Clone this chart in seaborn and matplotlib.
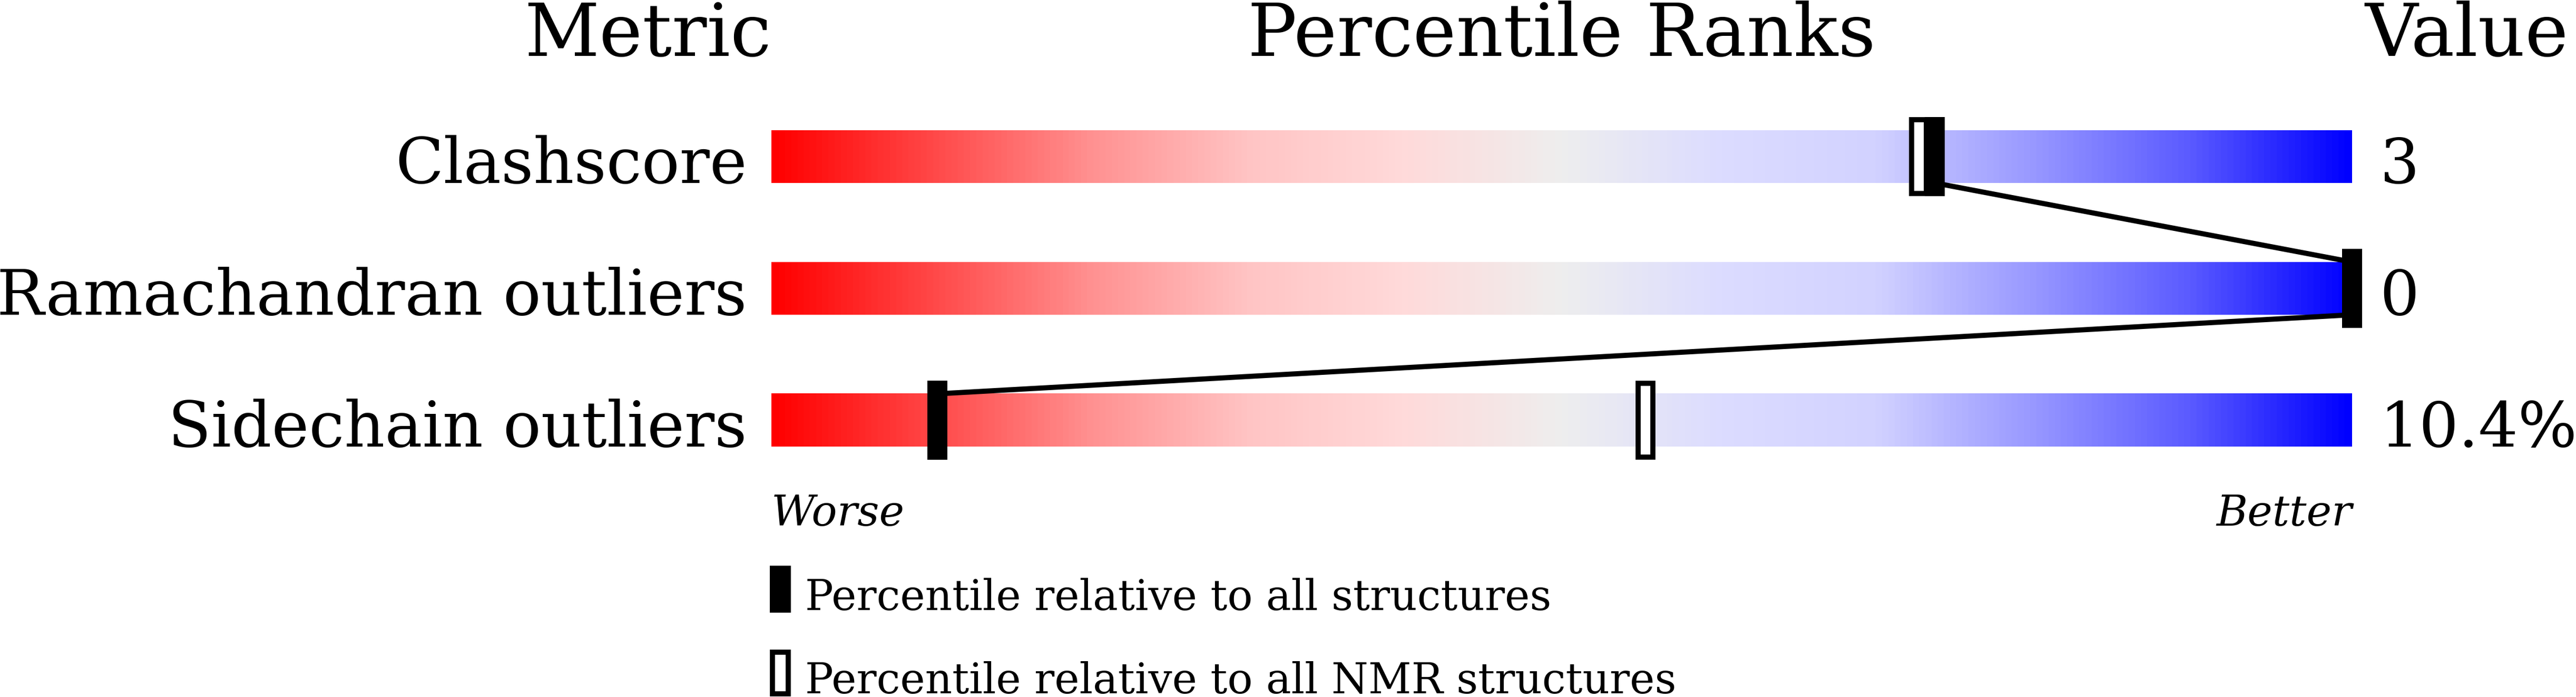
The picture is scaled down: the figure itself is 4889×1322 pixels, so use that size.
import numpy as np
import matplotlib.pyplot as plt
import seaborn as sns
from matplotlib.colors import LinearSegmentedColormap

sns.set_theme(style='white')
plt.rcParams['font.family'] = ['DejaVu Serif']
plt.rcParams['text.color'] = 'black'

# data
metrics = ['Clashscore', 'Ramachandran outliers', 'Sidechain outliers']
values = ['3', '0', '10.4%']
pct_all = [73.6, 100, 10.5]
pct_nmr = [72.6, 100, 55.3]
legend_labels = ['Percentile relative to all structures',
                 'Percentile relative to all NMR structures']

# red -> grey -> blue slider colours
grad_pos = [0, 0.1, 0.2, 0.3, 0.4, 0.5, 0.6, 0.7, 0.75, 0.8, 0.9, 1.0]
grad_col = ['#ff0000', '#ff4848', '#ff9090', '#ffc4c4', '#ffdada', '#eeeeee',
            '#dcdcff', '#d2d2ff', '#b4b4ff', '#9898ff', '#5a5aff', '#0000ff']
cmap = LinearSegmentedColormap.from_list('slider', list(zip(grad_pos, grad_col)))

fig = plt.figure(figsize=(48.89, 13.22), dpi=100)
ax = fig.add_axes([1464 / 4889, 0, 3000 / 4889, 1])
ax.set_xlim(0, 100)
ax.set_ylim(4.1, -1.188)
ax.axis('off')

bar_h = 0.4
mark_h = 0.6
mark_w = 1.27
edge = 7
grad = np.linspace(0, 1, 512).reshape(1, -1)

for i, name in enumerate(metrics):
    ax.imshow(grad, cmap=cmap, aspect='auto', interpolation='bilinear',
              extent=[0, 100, i + bar_h / 2, i - bar_h / 2], zorder=1)
    ax.text(-1.55, i + 0.2, name, ha='right', va='baseline', fontsize=86)
    ax.text(101.75, i + 0.2, values[i], ha='left', va='baseline', fontsize=85)

# connecting line between the "all structures" markers
lx, ly = [], []
for i in range(len(metrics) - 1):
    lx += [pct_all[i], pct_all[i + 1]]
    ly += [i + bar_h / 2, i + 1 - bar_h / 2]
ax.plot(lx, ly, color='black', lw=7, zorder=2, solid_capstyle='butt', clip_on=False)

rows = np.arange(len(metrics))
ax.bar(pct_nmr, mark_h - 0.04, width=mark_w - 0.33, bottom=rows - (mark_h - 0.04) / 2,
       facecolor='white', edgecolor='black', linewidth=edge, zorder=3, clip_on=False)
ax.bar(pct_all, mark_h, width=mark_w, bottom=rows - mark_h / 2,
       color='black', linewidth=0, zorder=4, clip_on=False)

# headers
ax.text(0, -0.764, 'Metric', ha='right', va='baseline', fontsize=100)
ax.text(50, -0.764, 'Percentile Ranks', ha='center', va='baseline', fontsize=100)
ax.text(100.8, -0.764, 'Value', ha='left', va='baseline', fontsize=100)

ax.text(0, 2.8, 'Worse', ha='left', va='baseline', fontsize=58, style='italic')
ax.text(100, 2.8, 'Better', ha='right', va='baseline', fontsize=58, style='italic')

# legend
ax.bar([0.57], [0.356], width=1.33, bottom=[3.104], color='black',
       linewidth=0, clip_on=False)
ax.bar([0.57], [0.316], width=1.0, bottom=[3.76], facecolor='white',
       edgecolor='black', linewidth=edge, clip_on=False)
for base, lab in zip([3.44, 4.07], legend_labels):
    ax.text(2.13, base, lab, ha='left', va='baseline', fontsize=57.5)

fig.savefig('out.png', dpi=100)
